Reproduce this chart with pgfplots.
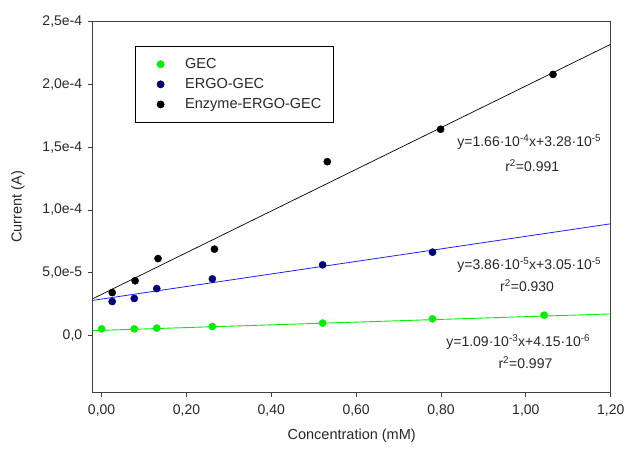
\documentclass[border=0pt]{standalone}
\usepackage{pgfplots}
\pgfplotsset{compat=1.18}
\usepackage{fontspec}
\setmainfont{Liberation Sans}
\definecolor{gecgreen}{RGB}{0,240,0}
\definecolor{ergonavy}{RGB}{0,0,120}
\definecolor{lineblue}{RGB}{30,30,255}
\definecolor{axgray}{RGB}{64,64,64}
\definecolor{txt}{RGB}{40,40,40}
\begin{document}
\begin{tikzpicture}
\path[use as bounding box] (-92.7bp,-61bp) rectangle (532.3bp,392bp);
\begin{axis}[
  at={(0,0)}, anchor=south west,
  scale only axis, width=518bp, height=370.3bp,
  xmin=-0.021, xmax=1.2, ymin=-4.5e-5, ymax=2.5e-4,
  axis line style={axgray, line width=0.8pt},
  tick style={axgray, line width=0.8pt},
  tick align=outside, xtick pos=left, ytick pos=left,
  major tick length=5bp,
  xtick={0,0.2,0.4,0.6,0.8,1.0,1.2},
  xticklabels={{0,00},{0,20},{0,40},{0,60},{0,80},{1,00},{1,20}},
  ytick={0,5e-5,1e-4,1.5e-4,2e-4,2.5e-4},
  yticklabels={{0,0},{5,0e-5},{1,0e-4},{1,5e-4},{2,0e-4},{2,5e-4}},
  scaled y ticks=false,
  ticklabel style={font=\fontsize{14bp}{16bp}\selectfont, text=txt},
  xticklabel style={yshift=-4bp},
  yticklabel style={xshift=-2bp},
  xlabel={Concentration (mM)}, ylabel={Current (A)},
  label style={font=\fontsize{14.5bp}{16bp}\selectfont, text=txt},
  xlabel style={yshift=-6bp},
  ylabel style={yshift=11bp},
  legend style={at={(0.0817,0.934)}, anchor=north west, draw=black, line width=0.6pt,
    font=\fontsize{14.5bp}{16bp}\selectfont, text=txt,
    inner xsep=10bp, inner ysep=10bp, row sep=4.5bp,
    /tikz/every odd column/.append style={column sep=19bp}},
  legend image code/.code={\path (0bp,0bp) (17bp,0bp); \draw plot coordinates {(15bp,0bp)};},
  legend cell align=left,
  clip=true,
]
% fitted lines
\addplot[black, line width=0.7pt, forget plot] coordinates {(-0.021,2.93e-5) (1.2,2.32e-4)};
\addplot[lineblue, line width=0.8pt, forget plot] coordinates {(-0.021,2.80e-5) (1.2,8.9e-5)};
\addplot[gecgreen, line width=0.9pt, forget plot] coordinates {(-0.021,3.92e-6) (1.2,1.72e-5)};
% data
\addplot[only marks, mark=*, mark size=3.6bp, color=gecgreen] coordinates {
 (0.0,5.3e-6) (0.077,5.3e-6) (0.13,5.9e-6) (0.261,7.2e-6) (0.521,9.9e-6) (0.78,1.33e-5) (1.043,1.62e-5)};
\addlegendentry{GEC}
\addplot[only marks, mark=*, mark size=3.6bp, color=ergonavy] coordinates {
 (0.025,2.71e-5) (0.077,2.95e-5) (0.13,3.74e-5) (0.261,4.51e-5) (0.521,5.63e-5) (0.78,6.64e-5)};
\addlegendentry{ERGO-GEC}
\addplot[only marks, mark=*, mark size=3.6bp, color=black] coordinates {
 (0.025,3.42e-5) (0.079,4.36e-5) (0.133,6.13e-5) (0.266,6.88e-5) (0.532,1.385e-4) (0.799,1.643e-4) (1.064,2.08e-4)};
\addlegendentry{Enzyme-ERGO-GEC}
% annotations
\begin{scope}[every node/.style={font=\fontsize{14bp}{16bp}\selectfont, text=txt, inner sep=0pt}]
\node at (axis cs:1.008,1.542e-4) {y=1.66·10\textsuperscript{-4}x+3.28·10\textsuperscript{-5}};
\node at (axis cs:1.015,1.351e-4) {r\textsuperscript{2}=0.991};
\node at (axis cs:1.008,5.64e-5) {y=3.86·10\textsuperscript{-5}x+3.05·10\textsuperscript{-5}};
\node at (axis cs:1.003,3.96e-5) {r\textsuperscript{2}=0.930};
\node at (axis cs:0.982,-5.0e-6) {y=1.09·10\textsuperscript{-3}x+4.15·10\textsuperscript{-6}};
\node at (axis cs:0.999,-2.17e-5) {r\textsuperscript{2}=0.997};
\end{scope}
\end{axis}
\end{tikzpicture}
\end{document}
